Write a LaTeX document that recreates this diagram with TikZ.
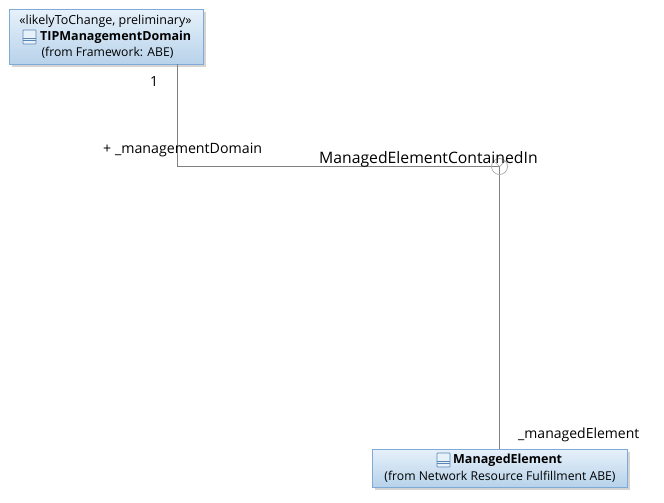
\documentclass[tikz,border=0pt]{standalone}
\usepackage{fontspec}
\setmainfont{Open Sans}
\usetikzlibrary{calc,shadings}
\definecolor{boxedge}{HTML}{7FAAD8}
\definecolor{boxtop}{HTML}{E6F1FA}
\definecolor{boxbot}{HTML}{B7D2EA}
\definecolor{iconedge}{HTML}{5A86B4}
\definecolor{linegray}{HTML}{808080}
\definecolor{circgray}{HTML}{A8A8A8}
\definecolor{shadowgray}{HTML}{D4D4D4}
\tikzset{
  x=1pt,y=-1pt,
  umlbox/.style={draw=boxedge,line width=1pt,top color=boxtop,bottom color=boxbot,minimum width=#1,inner sep=0pt,outer sep=0pt,anchor=north west},
  conn/.style={draw=linegray,line width=1pt},
  boxtext/.style={font=\fontsize{12.2}{14}\selectfont,inner sep=0pt},
  lab/.style={font=\fontsize{14}{16}\selectfont,inner sep=0pt,anchor=base west},
  title/.style={font=\fontsize{12.5}{15}\selectfont\bfseries,inner sep=0pt,anchor=west},
  classicon/.pic={
    \draw[iconedge,line width=.8pt,fill=boxtop,rounded corners=.6pt] (0,0) rectangle (13,14);
    \draw[iconedge,line width=.8pt] (0,8) -- (13,8) (0,10.5) -- (13,10.5);
  }
}
\begin{document}
\begin{tikzpicture}
\useasboundingbox (0,0) rectangle (664,503);
\fill[shadowgray] (12,12) rectangle (206,67);
\fill[shadowgray] (375,451.5) rectangle (630,490);
\node[umlbox=194pt,minimum height=55pt] (dom) at (9.5,9.5) {};
\node[umlbox=254.5pt,minimum height=38pt] (elem) at (372.5,449) {};
\coordinate (bend) at (177.5,166.5);
\coordinate (junction) at (499.5,166.5);
\draw[conn] (dom.south -| bend) -- (bend) -- (junction) -- (elem.north -| junction);
\draw[circgray,line width=.7pt] (junction) circle[radius=8];
\draw[circgray,line width=.7pt] (junction) -- ++(-5.6,-5.6) (junction) -- ++(5.6,-5.6);
\node[boxtext,font=\fontsize{12.5}{14}\selectfont] (d1) at (105.5,21.5) {«likelyToChange, preliminary»};
\node[title] (d2) at (40,37) {TIPManagementDomain};
\node[boxtext] (d3) at (107.5,53) {(from Framework: ABE)};
\pic at (23,30) {classicon};
\node[title] (e1) at (453,460) {ManagedElement};
\node[boxtext] (e2) at (500,476.5) {(from Network Resource Fulfillment ABE)};
\pic at (437,453) {classicon};
\node[lab] (l1) at (150,87) {1};
\node[lab,font=\fontsize{14.2}{16}\selectfont] (l2) at (103,153) {+ \_managementDomain};
\node[lab,font=\fontsize{15.75}{18}\selectfont] (l3) at (319,163.5) {ManagedElementContainedIn};
\node[lab] (l4) at (518,438) {\_managedElement};
\end{tikzpicture}
\end{document}
